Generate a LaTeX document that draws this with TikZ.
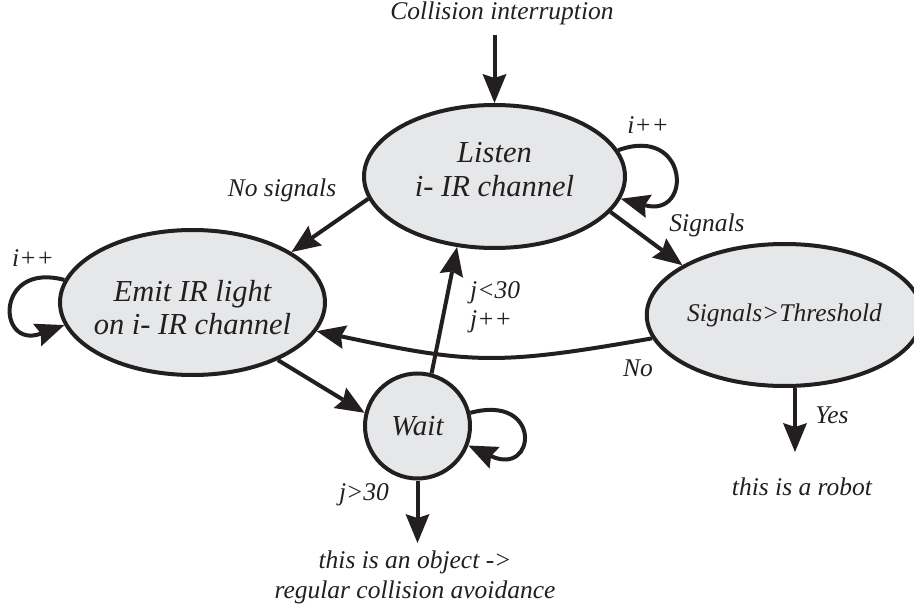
\documentclass[tikz,border=0pt]{standalone}
\usepackage{fontspec}
\setmainfont{Liberation Serif}
\usetikzlibrary{shapes.geometric,arrows.meta}
\definecolor{ink}{HTML}{231F20}
\definecolor{statefill}{HTML}{E6E7E8}

\begin{document}
\begin{tikzpicture}[x=1pt,y=-1pt,
  every node/.style={font=\fontsize{25.5}{33}\selectfont\itshape, text=ink},
  state/.style={ellipse, draw=ink, fill=statefill, line width=4pt, inner sep=0pt, align=center},
  big/.style={inner sep=0pt, align=center, font=\fontsize{30.5}{33.5}\selectfont\itshape},
  arr/.style={draw=ink, line width=4pt, -{Stealth[length=29pt,width=24pt,inset=4pt,line width=0pt]}},
  lbl/.style={inner sep=0pt}
]
\useasboundingbox (0,0) rectangle (914,607);

% states
\node[state, minimum width=261pt, minimum height=143pt] (listen) at (494.5,176.5) {};
\node[big] (listentxt) at (494.5,169.5) {Listen\\i- IR channel};
\node[state, minimum width=265pt, minimum height=145pt] (emit) at (192.5,302.5) {};
\node[big] (emittxt) at (192.5,307.5) {Emit IR light\\on i- IR channel};
\node[state, minimum width=255pt, minimum height=142pt] (thr) at (784.5,315) {Signals>Threshold};
\node[state, circle, minimum size=105pt, font=\fontsize{29}{33}\selectfont\itshape] (wait) at (417.5,426) {Wait};

% entry
\node[lbl] (coll) at (502,13) {Collision interruption};
\coordinate (collin) at (494.5,35);
\draw[arr] (collin) -- (listen.north);

% listen transitions
\draw[arr] (listen.190) -- (emit.27);
\node[lbl] (nosig) at (282,190) {No signals};
\draw[arr] (listen.-17) -- (thr.154);
\node[lbl] (sig) at (707,225) {Signals};
\draw[arr] (listen.12) .. controls +(20:75pt) and +(-15:75pt) .. (listen.-10);
\node[lbl] (iinc1) at (648,125) {i++};

% emit transitions
\draw[arr] (emit.170) .. controls +(165:72pt) and +(200:72pt) .. (emit.-170);
\node[lbl] (iinc2) at (33,258) {i++};
\draw[arr] (emit.-34) -- (wait.166);

% threshold transitions
\draw[arr] (thr.190) to[out=190,in=-12,looseness=1.2] (emit.-13);
\node[lbl] (no) at (638,368) {No};
\coordinate (robotin) at (795,452);
\draw[arr] (robotin |- thr.south) -- (robotin);
\node[lbl] (yes) at (832,415) {Yes};
\node[lbl] (robot) at (802,487) {this is a robot};

% wait transitions
\draw[arr] (wait.75) -- (listen.242);
\node[lbl, anchor=west, align=left, font=\fontsize{25.5}{29}\selectfont\itshape] (jlt) at (470,307.5) {j<30\\j++};
\draw[arr] (wait.14) .. controls +(15:75pt) and +(-25:75pt) .. (wait.-21);
\coordinate (objin) at (417.5,543);
\draw[arr] (wait.south) -- (objin);
\node[lbl] (jgt) at (364,495) {j>30};
\node[lbl, align=center, font=\fontsize{25.5}{30}\selectfont\itshape] (obj) at (415,577) {this is an object ->\\regular collision avoidance};
\end{tikzpicture}
\end{document}
